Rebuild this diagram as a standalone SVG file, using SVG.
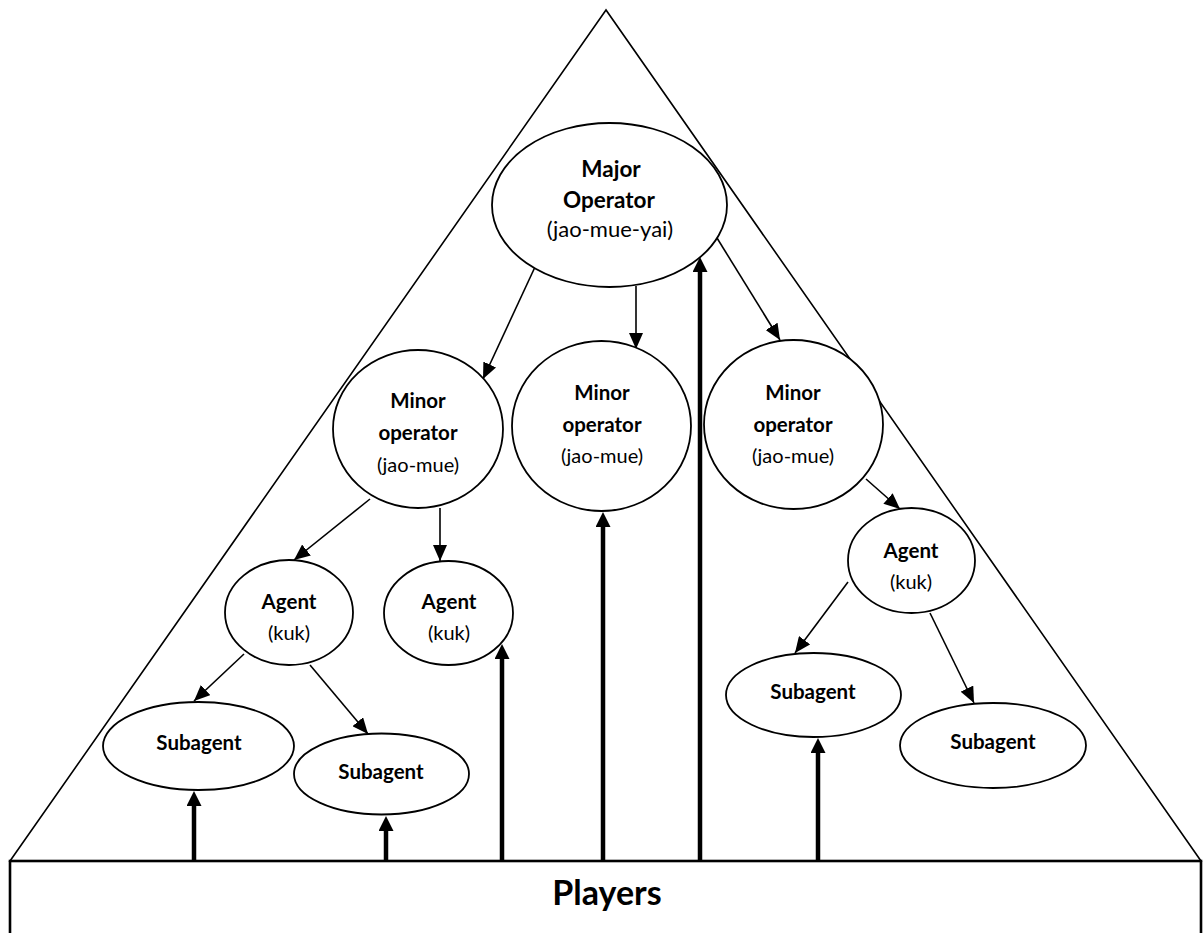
<svg xmlns="http://www.w3.org/2000/svg" width="1203" height="933" viewBox="0 0 1203 933">
<style>
  .shape { fill: #fff; stroke: #000; stroke-width: 1.8; }
  .frame { fill: none; stroke: #000; stroke-width: 1.6; }
  .base { fill: #fff; stroke: #000; stroke-width: 2.6; }
  .thin { stroke: #000; stroke-width: 1.6; fill: none; marker-end: url(#headThin); }
  .thick { stroke: #000; stroke-width: 4.5; fill: none; marker-end: url(#headThick); }
  text { font-family: Lato, "Liberation Sans", "DejaVu Sans", sans-serif; text-anchor: middle; fill: #000; }
  .b { font-weight: bold; font-size: 20.5px; }
  .r { font-weight: normal; font-size: 20px; }
  .bm { font-weight: bold; font-size: 22.5px; }
  .rm { font-weight: normal; font-size: 22px; }
  .title { font-weight: bold; font-size: 34px; }
</style>
<defs>
  <marker id="headThin" markerUnits="userSpaceOnUse" markerWidth="16" markerHeight="14" refX="16" refY="7" orient="auto">
    <path d="M0,0 L16,7 L0,14 z" fill="#000"/>
  </marker>
  <marker id="headThick" markerUnits="userSpaceOnUse" markerWidth="16" markerHeight="15" refX="1" refY="7.5" orient="auto">
    <path d="M0,0 L15,7.5 L0,15 z" fill="#000"/>
  </marker>
</defs>
<rect width="1203" height="933" fill="#fff"/>

<g id="pyramid">
  <polygon class="frame" points="606,10 10,861 1201,861"/>
</g>

<g id="players">
  <rect class="base" x="10" y="861" width="1191" height="100"/>
  <text class="title" x="607" y="905">Players</text>
</g>

<g id="connectors">
  <line class="thin" x1="535" y1="267" x2="483" y2="379"/>
  <line class="thin" x1="636" y1="286" x2="636" y2="349"/>
  <line class="thin" x1="717" y1="238" x2="780" y2="340"/>
  <line class="thin" x1="370" y1="499" x2="294" y2="560"/>
  <line class="thin" x1="440" y1="508" x2="440" y2="561"/>
  <line class="thin" x1="866" y1="479" x2="900" y2="509"/>
  <line class="thin" x1="244" y1="654" x2="194" y2="701"/>
  <line class="thin" x1="310" y1="665" x2="368" y2="734"/>
  <line class="thin" x1="848" y1="582" x2="795" y2="653"/>
  <line class="thin" x1="930" y1="613" x2="974" y2="703"/>
  <line class="thick" x1="194" y1="861" x2="194" y2="805"/>
  <line class="thick" x1="386" y1="861" x2="386" y2="830"/>
  <line class="thick" x1="502" y1="861" x2="502" y2="658"/>
  <line class="thick" x1="603" y1="861" x2="603" y2="526"/>
  <line class="thick" x1="700" y1="861" x2="700" y2="271"/>
  <line class="thick" x1="818" y1="861" x2="818" y2="752"/>
</g>

<g id="major-operator">
  <ellipse class="shape" cx="609.5" cy="205" rx="117.5" ry="82"/>
  <text class="bm" x="611" y="177">Major</text>
  <text class="bm" x="609" y="208">Operator</text>
  <text class="rm" x="610" y="237">(jao-mue-yai)</text>
</g>

<g id="minor-operator-left">
  <ellipse class="shape" cx="418" cy="429" rx="85" ry="79"/>
  <text class="b" x="418" y="408">Minor</text>
  <text class="b" x="418" y="440">operator</text>
  <text class="r" x="418" y="472">(jao-mue)</text>
</g>

<g id="minor-operator-middle">
  <ellipse class="shape" cx="601.5" cy="426" rx="89.5" ry="85"/>
  <text class="b" x="602" y="400">Minor</text>
  <text class="b" x="602" y="432">operator</text>
  <text class="r" x="602" y="463">(jao-mue)</text>
</g>

<g id="minor-operator-right">
  <ellipse class="shape" cx="793.5" cy="424.5" rx="89.5" ry="84.5"/>
  <text class="b" x="793" y="400">Minor</text>
  <text class="b" x="793" y="432">operator</text>
  <text class="r" x="793" y="463">(jao-mue)</text>
</g>

<g id="agent-left">
  <ellipse class="shape" cx="289" cy="612.5" rx="64" ry="52.5"/>
  <text class="b" x="289" y="609">Agent</text>
  <text class="r" x="289" y="640">(kuk)</text>
</g>

<g id="agent-middle">
  <ellipse class="shape" cx="448.5" cy="613" rx="64.5" ry="52"/>
  <text class="b" x="449" y="609">Agent</text>
  <text class="r" x="449" y="640">(kuk)</text>
</g>

<g id="agent-right">
  <ellipse class="shape" cx="911.5" cy="560.5" rx="63.5" ry="52.5"/>
  <text class="b" x="911" y="558">Agent</text>
  <text class="r" x="911" y="589">(kuk)</text>
</g>

<g id="subagent-1">
  <ellipse class="shape" cx="198.5" cy="746" rx="95.5" ry="44"/>
  <text class="b" x="199" y="750">Subagent</text>
</g>

<g id="subagent-2">
  <ellipse class="shape" cx="381.5" cy="774" rx="87.5" ry="40.5"/>
  <text class="b" x="381" y="779">Subagent</text>
</g>

<g id="subagent-3">
  <ellipse class="shape" cx="813.5" cy="695" rx="87.5" ry="42"/>
  <text class="b" x="813" y="699">Subagent</text>
</g>

<g id="subagent-4">
  <ellipse class="shape" cx="993" cy="745.5" rx="93" ry="42.5"/>
  <text class="b" x="993" y="749">Subagent</text>
</g>
</svg>
